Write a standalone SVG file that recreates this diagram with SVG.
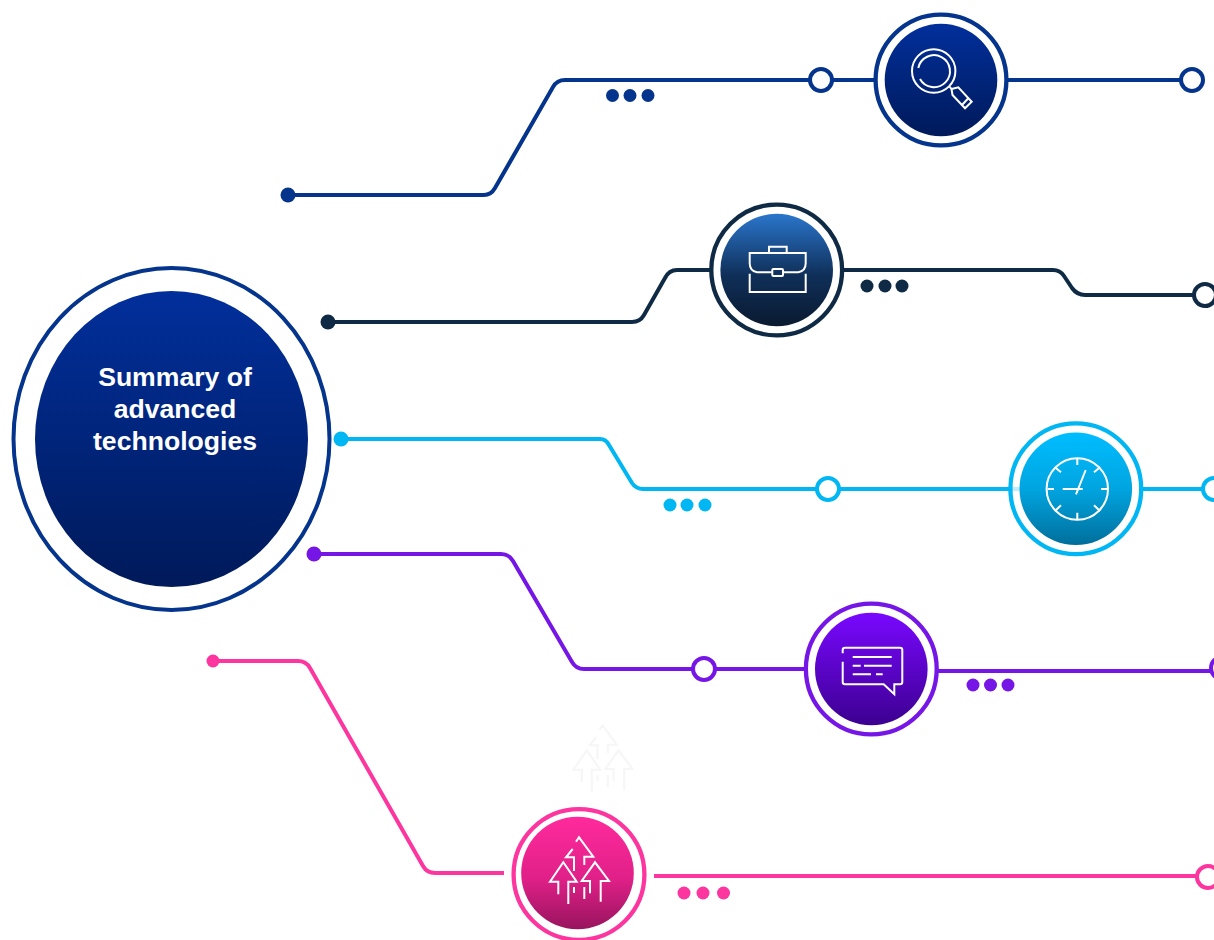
<svg xmlns="http://www.w3.org/2000/svg" xmlns:xlink="http://www.w3.org/1999/xlink" width="1214" height="940" viewBox="0 0 1214 940">
<style>
.line{fill:none;stroke-width:4;stroke-linejoin:round}
.port{fill:#fff;stroke-width:4}
.ring{fill:#fff;stroke-width:4.3}
.icon{fill:none;stroke:#fff;stroke-width:2}
.title{font-family:"Liberation Sans",Arial,sans-serif;font-weight:700;font-size:26.6px;fill:#fff;text-anchor:middle}
.blue{stroke:#04348c}.navy{stroke:#0f2a44}.cyan{stroke:#00b6f3}.purple{stroke:#7616e6}.pink{stroke:#fc359f}
.fblue{fill:#04348c}.fnavy{fill:#0f2a44}.fcyan{fill:#00b6f3}.fpurple{fill:#7616e6}.fpink{fill:#fc359f}
</style>
<defs>
<linearGradient id="gBlue" x1="0" y1="0" x2="0" y2="1"><stop offset="0" stop-color="#012f9b"/><stop offset="1" stop-color="#001a5a"/></linearGradient>
<linearGradient id="gNavy" x1="0" y1="0" x2="0" y2="1"><stop offset="0" stop-color="#2a76cc"/><stop offset="0.55" stop-color="#0f2f58"/><stop offset="1" stop-color="#0a1a30"/></linearGradient>
<linearGradient id="gCyan" x1="0" y1="0" x2="0" y2="1"><stop offset="0" stop-color="#00bdff"/><stop offset="0.5" stop-color="#00a5e0"/><stop offset="1" stop-color="#006f9c"/></linearGradient>
<linearGradient id="gPurple" x1="0" y1="0" x2="0" y2="1"><stop offset="0" stop-color="#7908ff"/><stop offset="1" stop-color="#3c0090"/></linearGradient>
<linearGradient id="gPink" x1="0" y1="0" x2="0" y2="1"><stop offset="0" stop-color="#ff2a9d"/><stop offset="0.55" stop-color="#e02088"/><stop offset="1" stop-color="#98145e"/></linearGradient>
<g id="arrows">
<path d="M576 841.7L579 837.3L593.3 856.7H584.3V865M572.7 849L566 857.3H574V871M558.3 894.3V881.7H550L563.3 862.3L576.7 881.7H568.3V904M590 893.3V881H581.7L595 862.3L609 881H600.7V901.7M574 887V893M584.3 887V899"/>
</g>
</defs>
<g id="connectors">
<path class="line blue" d="M288 195H484Q491 195 495 188L553 87Q557 80 565 80H810M833 80H875M1008 80H1181"/>
<path class="line navy" d="M328 322H632Q640 322 644 315L665 278Q669 270 677 270H711M843 270H1053Q1060 270 1064 276L1072 288Q1077 295 1085 295H1194"/>
<path class="line cyan" d="M341 439H600Q606 439 609 445L632 483Q636 489 643 489H817M840 489H1021M1142 489H1203"/>
<path class="line purple" d="M314 554H501Q509 554 513 561L572 662Q576 669 584 669H692M716 669H806M937 671H1211"/>
<path class="line pink" d="M213 661H298Q306 661 310 668L423 866Q427 873 435 873H504M654 876H1197"/>
</g>
<g id="node-main">
<ellipse cx="171.5" cy="439" rx="158" ry="171" fill="#fff" stroke="#04348c" stroke-width="4"/>
<ellipse cx="171.5" cy="439" rx="136.5" ry="148" fill="url(#gBlue)"/>
<text class="title" x="175" y="386">Summary of</text>
<text class="title" x="175" y="418">advanced</text>
<text class="title" x="175" y="450">technologies</text>
</g>
<g id="node-search">
<circle class="fblue" cx="288" cy="195" r="7.5"/>
<circle class="port blue" cx="821" cy="80" r="11"/>
<circle class="port blue" cx="1192" cy="80" r="11"/>
<circle class="fblue" cx="612.5" cy="95.5" r="6.5"/><circle class="fblue" cx="630" cy="95.5" r="6.5"/><circle class="fblue" cx="648" cy="95.5" r="6.5"/>
<circle class="ring blue" cx="941" cy="80" r="65.4"/>
<circle cx="941" cy="80" r="56.3" fill="url(#gBlue)"/>
<g class="icon">
<circle cx="933.7" cy="71" r="21.7"/>
<path d="M918.3 68A16 16 0 1 1 920 79"/>
<path d="M949.5 86.5L951.5 89L958.3 87.3L971.7 101.7L965 108.3L952.5 95L951.5 89M962.5 104.5L968.5 98"/>
</g>
</g>
<g id="node-case">
<circle class="fnavy" cx="328" cy="322" r="7.5"/>
<circle class="port navy" cx="1205" cy="295" r="11"/>
<circle class="fnavy" cx="867" cy="286" r="6.5"/><circle class="fnavy" cx="885" cy="286" r="6.5"/><circle class="fnavy" cx="902" cy="286" r="6.5"/>
<circle class="ring navy" cx="776.7" cy="270" r="65.4"/>
<circle cx="776.7" cy="270" r="56.3" fill="url(#gNavy)"/>
<g class="icon">
<path d="M769 253V246.7H786.7V253"/>
<path d="M771.7 272.3H757Q749.7 271 749.7 263.3V253H805.7V263.3Q805.7 271 798.3 272.3H783"/>
<rect x="772.3" y="269" width="10.7" height="7" rx="1"/>
<path d="M749.7 273.7V292H805.7V273.7"/>
</g>
</g>
<g id="node-clock">
<circle class="fcyan" cx="341" cy="439" r="7.5"/>
<circle class="port cyan" cx="828" cy="489" r="11"/>
<circle class="port cyan" cx="1214" cy="489" r="11"/>
<circle class="fcyan" cx="670" cy="505" r="6.5"/><circle class="fcyan" cx="687" cy="505" r="6.5"/><circle class="fcyan" cx="705" cy="505" r="6.5"/>
<circle cx="1075.8" cy="488.7" r="65.4" fill="#fff" fill-opacity="0.75" stroke="#00b6f3" stroke-width="4.3"/>
<circle cx="1075.8" cy="488.7" r="56.3" fill="url(#gCyan)"/>
<g class="icon">
<circle cx="1077.3" cy="489" r="30.7"/>
<path d="M1077.3 459V465M1077.3 512.7V519M1101 489H1107.3M1047.7 489H1054M1055 467.3L1061 472.3M1100 467.3L1094 472.3M1055 511L1061 505.3M1100 511L1094 505.3"/>
<path d="M1062.7 489H1082.7M1085.7 470L1076 494.3"/>
</g>
</g>
<g id="node-chat">
<circle class="fpurple" cx="314" cy="554" r="7.5"/>
<circle class="port purple" cx="704" cy="669" r="11"/>
<circle class="port purple" cx="1222" cy="668" r="11"/>
<circle class="fpurple" cx="973" cy="685" r="6.5"/><circle class="fpurple" cx="990.5" cy="685" r="6.5"/><circle class="fpurple" cx="1008" cy="685" r="6.5"/>
<circle class="ring purple" cx="871.3" cy="669" r="65.4"/>
<circle cx="871.3" cy="669" r="56.3" fill="url(#gPurple)"/>
<g class="icon">
<path d="M842.7 653.3V650Q842.7 647.7 845 647.7H900Q902.3 647.7 902.3 650V682Q902.3 684.3 900 684.3H894.3V694.3L883.7 684.3H845Q842.7 684.3 842.7 682V661.7"/>
<path d="M852.7 657H891.7M852.7 665.7H860.7M864 665.7H891.7M852.7 674.3H871M876 674.3H882.7"/>
</g>
</g>
<g id="node-growth">
<circle class="fpink" cx="213" cy="661" r="6.5"/>
<circle class="port pink" cx="1208" cy="877" r="11"/>
<circle class="fpink" cx="684" cy="893" r="6.5"/><circle class="fpink" cx="703" cy="893" r="6.5"/><circle class="fpink" cx="723.5" cy="893" r="6.5"/>
<use href="#arrows" x="23.5" y="-112" fill="none" stroke="#f6f6f6" stroke-width="2"/>
<circle class="ring pink" cx="579" cy="874.5" r="65.4"/>
<circle cx="577.5" cy="873" r="56.3" fill="url(#gPink)"/>
<use href="#arrows" fill="none" stroke="#fff" stroke-width="2"/>
</g>
</svg>
